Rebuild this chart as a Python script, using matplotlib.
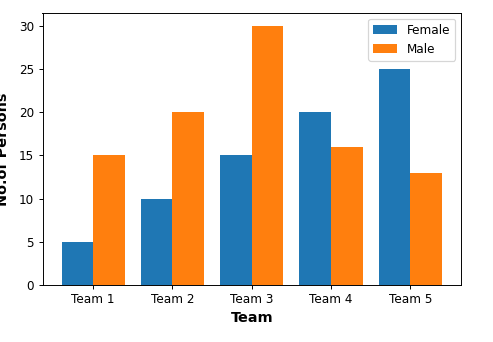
import matplotlib
matplotlib.use("Agg")
import matplotlib.pyplot as plt
import numpy as np

teams = ["Team 1", "Team 2", "Team 3", "Team 4", "Team 5"]
female = [5, 10, 15, 20, 25]
male = [15, 20, 30, 16, 13]

DPI = 86.4
fig = plt.figure(figsize=(493/DPI, 342/DPI), dpi=DPI)
ax = fig.add_axes([42.5/493, 1-285/342, (461-42.5)/493, (285-13)/342])
x = np.arange(len(teams))
w = 0.4
ax.bar(x - w/2, female, w, label="Female", color="#1f77b4")
ax.bar(x + w/2, male, w, label="Male", color="#ff7f0e")
ax.set_xticks(x)
ax.set_xticklabels(teams)
ax.set_xlabel("Team", fontsize=12, fontweight="bold")
ax.set_ylabel("No.of Persons", fontsize=12, fontweight="bold")
ax.yaxis.set_label_coords(-0.078, 0.5)
ax.legend(loc="upper right")
fig.savefig("out.png", dpi=DPI)
